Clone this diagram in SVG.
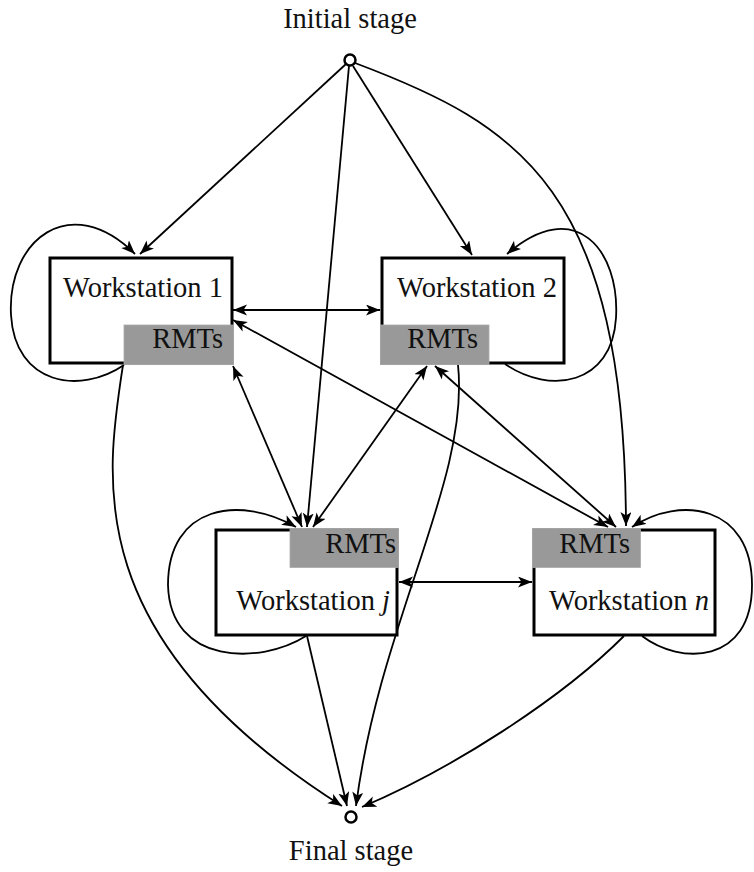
<svg xmlns="http://www.w3.org/2000/svg" width="754" height="872" viewBox="0 0 754 872">
<style>
  .lbl { font-family: "Liberation Serif", "Times New Roman", serif; font-size: 28.5px; fill: #111; }
  .box { fill: #fff; stroke: #000; stroke-width: 3; }
  .rmt { fill: #999; stroke: #aaa; stroke-width: 0.8; }
  .term { fill: #fff; stroke: #000; stroke-width: 2.5; }
  .edge { fill: none; stroke: #000; stroke-width: 1.8; marker-end: url(#ah); }
  .both { marker-start: url(#ah); }
</style>
<defs>
  <marker id="ah" markerUnits="userSpaceOnUse" markerWidth="15" markerHeight="12" refX="14" refY="5.5" orient="auto-start-reverse" viewBox="0 0 15 12">
    <path d="M0,0 L14,5.5 L0,11 L3.5,5.5 z" fill="#000"/>
  </marker>
</defs>
<rect width="754" height="872" fill="#fff"/>

<g id="connectors">
  <!-- from initial -->
  <path class="edge" d="M346,64 L140,254"/>
  <path class="edge" d="M349,66 L307,527"/>
  <path class="edge" d="M353,66 L472,255"/>
  <path class="edge" d="M355,63 C520,125 625,190 626,526"/>
  <!-- bidirectional -->
  <path class="edge both" d="M233,310 L380,310"/>
  <path class="edge both" d="M399,582 L532,582"/>
  <path class="edge both" d="M233,366 L302,527"/>
  <path class="edge both" d="M427,366 L313,527"/>
  <path class="edge both" d="M233,320 L608,527"/>
  <path class="edge both" d="M435,366 L616,527"/>
  <!-- self loops -->
  <path class="edge" d="M124,365 C80,395 15,385 11,315 C7,240 70,190 135,254"/>
  <path class="edge" d="M505,364 C550,395 612,385 616,318 C620,250 575,195 507,254"/>
  <path class="edge" d="M306,636 C260,665 170,665 168,585 C168,505 240,495 296,527"/>
  <path class="edge" d="M642,636 C680,665 752,665 752,585 C752,505 680,495 632,527"/>
  <!-- to final -->
  <path class="edge" d="M123,365 C105,480 80,640 342,806"/>
  <path class="edge" d="M307,636 L347,806"/>
  <path class="edge" d="M458,365 C470,480 380,620 356,806"/>
  <path class="edge" d="M624,636 C560,700 450,770 362,807"/>
</g>

<g id="initial">
  <circle class="term" cx="350" cy="60" r="5.5"/>
  <text class="lbl" x="350" y="28" text-anchor="middle">Initial stage</text>
</g>
<g id="final">
  <circle class="term" cx="351" cy="817" r="5.5"/>
  <text class="lbl" x="351" y="860" text-anchor="middle">Final stage</text>
</g>

<g id="ws1">
  <rect class="box" x="50" y="258" width="182" height="105"/>
  <rect class="rmt" x="124" y="325" width="109.5" height="39.5"/>
  <text class="lbl" x="223" y="297" text-anchor="end">Workstation 1</text>
  <text class="lbl" x="223" y="348" text-anchor="end">RMTs</text>
</g>
<g id="ws2">
  <rect class="box" x="382" y="258" width="182" height="105"/>
  <rect class="rmt" x="380.5" y="325" width="108.5" height="39.5"/>
  <text class="lbl" x="557" y="297" text-anchor="end">Workstation 2</text>
  <text class="lbl" x="478" y="348" text-anchor="end">RMTs</text>
</g>
<g id="wsj">
  <rect class="box" x="216" y="530" width="181" height="105"/>
  <rect class="rmt" x="290" y="528.5" width="108.5" height="39"/>
  <text class="lbl" x="390" y="610" text-anchor="end">Workstation <tspan font-style="italic">j</tspan></text>
  <text class="lbl" x="396" y="553" text-anchor="end">RMTs</text>
</g>
<g id="wsn">
  <rect class="box" x="534" y="530" width="181" height="105"/>
  <rect class="rmt" x="532.5" y="528.5" width="108" height="39"/>
  <text class="lbl" x="709" y="610" text-anchor="end">Workstation <tspan font-style="italic">n</tspan></text>
  <text class="lbl" x="630" y="553" text-anchor="end">RMTs</text>
</g>
</svg>
